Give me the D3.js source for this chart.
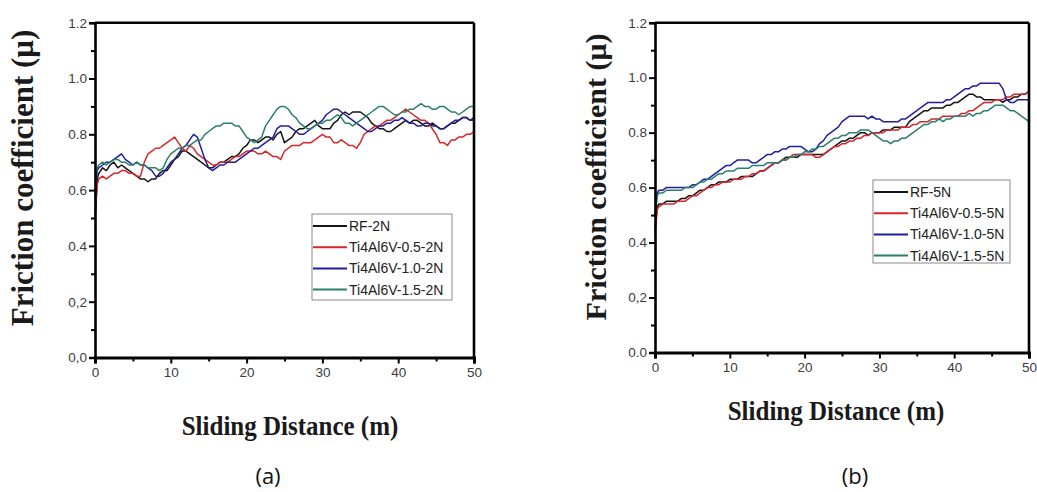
<!DOCTYPE html>
<html>
<head>
<meta charset="utf-8">
<script src="https://cdn.jsdelivr.net/npm/d3@7"></script>
<style>
  html, body { margin: 0; padding: 0; background: #fff; }
  svg { display: block; }
</style>
</head>
<body>
<svg id="chart" width="1037" height="492"></svg>
<script>
// Sliding distance (m) at which the friction coefficient was sampled
const distance = [0, 0.3,
  0.5, 1, 1.5, 2, 2.5, 3, 3.5, 4, 4.5, 5,
  5.5, 6, 6.5, 7, 7.5, 8, 8.5, 9, 9.5, 10,
  10.5, 11, 11.5, 12, 12.5, 13, 13.5, 14, 14.5, 15,
  15.5, 16, 16.5, 17, 17.5, 18, 18.5, 19, 19.5, 20,
  20.5, 21, 21.5, 22, 22.5, 23, 23.5, 24, 24.5, 25,
  25.5, 26, 26.5, 27, 27.5, 28, 28.5, 29, 29.5, 30,
  30.5, 31, 31.5, 32, 32.5, 33, 33.5, 34, 34.5, 35,
  35.5, 36, 36.5, 37, 37.5, 38, 38.5, 39, 39.5, 40,
  40.5, 41, 41.5, 42, 42.5, 43, 43.5, 44, 44.5, 45,
  45.5, 46, 46.5, 47, 47.5, 48, 48.5, 49, 49.5, 50];

// (a) 2 N load
const namesA = ["RF-2N", "Ti4Al6V-0.5-2N", "Ti4Al6V-1.0-2N", "Ti4Al6V-1.5-2N"];
const rf2N = [0.50, 0.64,
  0.66, 0.68, 0.67, 0.69, 0.70, 0.68, 0.69, 0.68, 0.67, 0.66,
  0.65, 0.64, 0.64, 0.63, 0.64, 0.64, 0.66, 0.67, 0.67, 0.69,
  0.71, 0.72, 0.74, 0.74, 0.73, 0.72, 0.71, 0.70, 0.69, 0.68,
  0.68, 0.69, 0.70, 0.70, 0.71, 0.72, 0.72, 0.73, 0.75, 0.76,
  0.78, 0.78, 0.77, 0.78, 0.79, 0.79, 0.78, 0.80, 0.81, 0.77,
  0.78, 0.79, 0.81, 0.82, 0.82, 0.83, 0.84, 0.85, 0.83, 0.82,
  0.82, 0.82, 0.84, 0.85, 0.87, 0.88, 0.87, 0.88, 0.88, 0.88,
  0.87, 0.86, 0.84, 0.83, 0.82, 0.82, 0.81, 0.81, 0.82, 0.83,
  0.84, 0.85, 0.84, 0.85, 0.85, 0.84, 0.83, 0.83, 0.84, 0.83,
  0.82, 0.82, 0.83, 0.84, 0.84, 0.85, 0.86, 0.86, 0.85, 0.86];
const ti05_2N = [0.50, 0.62,
  0.64, 0.65, 0.64, 0.65, 0.66, 0.66, 0.67, 0.67, 0.66, 0.66,
  0.65, 0.65, 0.70, 0.73, 0.74, 0.75, 0.75, 0.76, 0.77, 0.78,
  0.79, 0.77, 0.75, 0.74, 0.76, 0.75, 0.73, 0.72, 0.71, 0.70,
  0.69, 0.69, 0.70, 0.70, 0.70, 0.71, 0.72, 0.72, 0.73, 0.74,
  0.74, 0.74, 0.73, 0.73, 0.74, 0.73, 0.72, 0.72, 0.71, 0.74,
  0.75, 0.76, 0.76, 0.76, 0.77, 0.77, 0.77, 0.78, 0.79, 0.80,
  0.79, 0.79, 0.77, 0.77, 0.78, 0.77, 0.76, 0.76, 0.75, 0.77,
  0.80, 0.81, 0.82, 0.83, 0.83, 0.84, 0.85, 0.85, 0.86, 0.87,
  0.88, 0.89, 0.88, 0.87, 0.86, 0.85, 0.85, 0.84, 0.82, 0.80,
  0.77, 0.77, 0.76, 0.78, 0.78, 0.79, 0.79, 0.80, 0.80, 0.81];
const ti10_2N = [0.57, 0.67,
  0.68, 0.69, 0.70, 0.70, 0.71, 0.72, 0.73, 0.71, 0.70, 0.69,
  0.70, 0.69, 0.69, 0.68, 0.67, 0.65, 0.65, 0.66, 0.68, 0.70,
  0.71, 0.73, 0.75, 0.76, 0.78, 0.80, 0.79, 0.75, 0.71, 0.68,
  0.67, 0.68, 0.69, 0.69, 0.70, 0.70, 0.70, 0.71, 0.72, 0.73,
  0.74, 0.75, 0.75, 0.76, 0.77, 0.78, 0.79, 0.82, 0.83, 0.83,
  0.83, 0.82, 0.81, 0.80, 0.80, 0.81, 0.82, 0.83, 0.84, 0.85,
  0.87, 0.88, 0.89, 0.89, 0.88, 0.87, 0.86, 0.85, 0.84, 0.83,
  0.82, 0.81, 0.81, 0.82, 0.83, 0.83, 0.84, 0.84, 0.85, 0.85,
  0.86, 0.85, 0.84, 0.84, 0.83, 0.83, 0.84, 0.84, 0.83, 0.83,
  0.82, 0.82, 0.83, 0.84, 0.85, 0.85, 0.86, 0.86, 0.85, 0.85];
const ti15_2N = [0.58, 0.68,
  0.69, 0.70, 0.69, 0.70, 0.71, 0.71, 0.70, 0.70, 0.69, 0.69,
  0.70, 0.69, 0.69, 0.68, 0.68, 0.68, 0.67, 0.68, 0.71, 0.73,
  0.74, 0.75, 0.75, 0.76, 0.76, 0.77, 0.78, 0.78, 0.80, 0.81,
  0.82, 0.83, 0.83, 0.84, 0.84, 0.84, 0.83, 0.83, 0.81, 0.79,
  0.78, 0.77, 0.78, 0.79, 0.83, 0.85, 0.87, 0.89, 0.90, 0.90,
  0.89, 0.87, 0.86, 0.84, 0.83, 0.82, 0.82, 0.83, 0.84, 0.84,
  0.85, 0.85, 0.86, 0.87, 0.86, 0.84, 0.84, 0.83, 0.84, 0.85,
  0.86, 0.87, 0.88, 0.89, 0.90, 0.90, 0.89, 0.88, 0.87, 0.87,
  0.88, 0.88, 0.89, 0.89, 0.90, 0.91, 0.90, 0.90, 0.89, 0.89,
  0.90, 0.90, 0.89, 0.88, 0.88, 0.87, 0.88, 0.89, 0.90, 0.90];

// (b) 5 N load
const namesB = ["RF-5N", "Ti4Al6V-0.5-5N", "Ti4Al6V-1.0-5N", "Ti4Al6V-1.5-5N"];
const rf5N = [0.45, 0.53,
  0.54, 0.54, 0.55, 0.55, 0.55, 0.55, 0.56, 0.56, 0.57, 0.57,
  0.58, 0.59, 0.59, 0.60, 0.61, 0.61, 0.62, 0.62, 0.62, 0.63,
  0.63, 0.63, 0.64, 0.64, 0.64, 0.64, 0.65, 0.66, 0.66, 0.67,
  0.68, 0.69, 0.69, 0.70, 0.71, 0.71, 0.71, 0.71, 0.72, 0.72,
  0.72, 0.72, 0.72, 0.72, 0.72, 0.73, 0.74, 0.75, 0.76, 0.77,
  0.77, 0.78, 0.78, 0.79, 0.80, 0.80, 0.79, 0.80, 0.80, 0.80,
  0.81, 0.81, 0.81, 0.82, 0.82, 0.82, 0.82, 0.84, 0.85, 0.86,
  0.87, 0.88, 0.88, 0.89, 0.89, 0.89, 0.89, 0.90, 0.90, 0.91,
  0.91, 0.92, 0.93, 0.94, 0.94, 0.93, 0.93, 0.92, 0.92, 0.92,
  0.92, 0.92, 0.91, 0.92, 0.92, 0.93, 0.93, 0.94, 0.94, 0.95];
const ti05_5N = [0.43, 0.52,
  0.53, 0.54, 0.54, 0.54, 0.54, 0.55, 0.55, 0.55, 0.56, 0.57,
  0.57, 0.58, 0.59, 0.60, 0.60, 0.61, 0.61, 0.62, 0.62, 0.62,
  0.63, 0.63, 0.63, 0.64, 0.64, 0.65, 0.65, 0.66, 0.66, 0.67,
  0.68, 0.69, 0.69, 0.70, 0.70, 0.71, 0.72, 0.72, 0.72, 0.72,
  0.72, 0.72, 0.71, 0.71, 0.72, 0.73, 0.74, 0.75, 0.75, 0.76,
  0.76, 0.77, 0.77, 0.78, 0.78, 0.79, 0.79, 0.80, 0.80, 0.80,
  0.80, 0.81, 0.81, 0.81, 0.81, 0.82, 0.82, 0.82, 0.83, 0.83,
  0.84, 0.84, 0.84, 0.85, 0.85, 0.85, 0.86, 0.86, 0.86, 0.86,
  0.86, 0.87, 0.87, 0.88, 0.88, 0.89, 0.90, 0.91, 0.91, 0.91,
  0.92, 0.92, 0.92, 0.93, 0.93, 0.94, 0.94, 0.94, 0.94, 0.95];
const ti10_5N = [0.50, 0.58,
  0.59, 0.59, 0.60, 0.60, 0.60, 0.60, 0.60, 0.60, 0.60, 0.61,
  0.61, 0.62, 0.63, 0.63, 0.64, 0.65, 0.66, 0.67, 0.68, 0.68,
  0.69, 0.70, 0.70, 0.70, 0.70, 0.69, 0.69, 0.70, 0.71, 0.72,
  0.72, 0.73, 0.73, 0.74, 0.74, 0.75, 0.75, 0.75, 0.75, 0.74,
  0.73, 0.73, 0.74, 0.76, 0.77, 0.79, 0.80, 0.81, 0.82, 0.84,
  0.85, 0.86, 0.86, 0.86, 0.86, 0.86, 0.85, 0.86, 0.85, 0.85,
  0.84, 0.84, 0.84, 0.84, 0.84, 0.85, 0.85, 0.86, 0.87, 0.88,
  0.89, 0.90, 0.91, 0.91, 0.91, 0.91, 0.91, 0.92, 0.92, 0.93,
  0.94, 0.95, 0.96, 0.96, 0.97, 0.97, 0.98, 0.98, 0.98, 0.98,
  0.98, 0.98, 0.96, 0.92, 0.91, 0.91, 0.92, 0.92, 0.92, 0.92];
const ti15_5N = [0.49, 0.57,
  0.58, 0.58, 0.59, 0.59, 0.59, 0.59, 0.59, 0.60, 0.60, 0.60,
  0.61, 0.62, 0.62, 0.63, 0.63, 0.64, 0.65, 0.65, 0.66, 0.66,
  0.66, 0.67, 0.67, 0.67, 0.67, 0.68, 0.68, 0.68, 0.68, 0.69,
  0.69, 0.69, 0.69, 0.70, 0.70, 0.71, 0.71, 0.72, 0.72, 0.73,
  0.73, 0.74, 0.74, 0.75, 0.75, 0.76, 0.77, 0.78, 0.78, 0.79,
  0.79, 0.80, 0.80, 0.80, 0.81, 0.81, 0.81, 0.80, 0.79, 0.78,
  0.77, 0.77, 0.76, 0.77, 0.77, 0.78, 0.78, 0.79, 0.80, 0.81,
  0.82, 0.83, 0.83, 0.84, 0.84, 0.85, 0.84, 0.85, 0.85, 0.86,
  0.86, 0.86, 0.86, 0.87, 0.86, 0.87, 0.87, 0.88, 0.88, 0.89,
  0.90, 0.90, 0.90, 0.89, 0.88, 0.88, 0.87, 0.86, 0.85, 0.84];

// Axis ticks
const xMajor = [0, 10, 20, 30, 40, 50];
const xMinor = [5, 15, 25, 35, 45];
const yMajor = [0, 0.2, 0.4, 0.6, 0.8, 1.0, 1.2];
const yMinor = [0.1, 0.3, 0.5, 0.7, 0.9, 1.1];
const yLabelsA = ["0,0", "0,2", "0.4", "0.6", "0.8", "1.0", "1.2"];
const yLabelsB = ["0.0", "0,2", "0.4", "0.6", "0.8", "1.0", "1.2"];

const seriesColors = ["#141414", "#d8262a", "#1f1f9e", "#2b7f6d"];

const svg = d3.select("#chart");
svg.append("rect").attr("width", 1037).attr("height", 492).attr("fill", "#fff");

const SANS = "'Liberation Sans', Arial, sans-serif";
const SERIF = "'Liberation Serif', 'Times New Roman', serif";

function drawPanel(cfg) {
  const x = d3.scaleLinear().domain([0, 50]).range([cfg.left, cfg.right]);
  const y = d3.scaleLinear().domain([0, 1.2]).range([cfg.bottom, cfg.top]);
  const g = svg.append("g");

  // friction traces
  const line = d3.line().x((d, i) => x(distance[i])).y(d => y(d));
  cfg.series.forEach((vals, k) => {
    g.append("path")
      .datum(vals)
      .attr("d", line)
      .attr("fill", "none")
      .attr("stroke", seriesColors[k])
      .attr("stroke-width", 1.5)
      .attr("stroke-linejoin", "round");
  });

  // frame: top and right edges
  g.append("line").attr("x1", cfg.left).attr("x2", cfg.right)
    .attr("y1", cfg.top).attr("y2", cfg.top)
    .attr("stroke", "#000").attr("stroke-width", 2.6);
  g.append("line").attr("x1", cfg.right).attr("x2", cfg.right)
    .attr("y1", cfg.top).attr("y2", cfg.bottom)
    .attr("stroke", "#000").attr("stroke-width", 2.6);

  // y axis
  const yAxis = g.append("g").attr("transform", `translate(${cfg.left},0)`)
    .call(d3.axisLeft(y).tickValues(yMajor).tickSize(6).tickPadding(2)
      .tickFormat((d, i) => cfg.yLabels[i]));
  yAxis.select(".domain").attr("stroke", "#000").attr("stroke-width", 2.6);
  yAxis.selectAll(".tick line").attr("stroke", "#000").attr("stroke-width", 2);
  yAxis.selectAll(".tick text").attr("font-family", SANS).attr("font-size", 13.5)
    .attr("fill", "#3c3c3c");
  const yMin = g.append("g").attr("transform", `translate(${cfg.left},0)`)
    .call(d3.axisLeft(y).tickValues(yMinor).tickSize(4).tickFormat(""));
  yMin.select(".domain").remove();
  yMin.selectAll(".tick line").attr("stroke", "#000").attr("stroke-width", 2);

  // x axis
  const xAxis = g.append("g").attr("transform", `translate(0,${cfg.bottom})`)
    .call(d3.axisBottom(x).tickValues(xMajor).tickSize(6).tickPadding(4));
  xAxis.select(".domain").attr("stroke", "#000").attr("stroke-width", 3);
  xAxis.selectAll(".tick line").attr("stroke", "#000").attr("stroke-width", 2);
  xAxis.selectAll(".tick text").attr("font-family", SANS).attr("font-size", 13.5)
    .attr("fill", "#3c3c3c");
  const xMin = g.append("g").attr("transform", `translate(0,${cfg.bottom})`)
    .call(d3.axisBottom(x).tickValues(xMinor).tickSize(4).tickFormat(""));
  xMin.select(".domain").remove();
  xMin.selectAll(".tick line").attr("stroke", "#000").attr("stroke-width", 2);

  // axis titles
  g.append("text")
    .attr("transform", `translate(${cfg.yTitleX},${cfg.yTitleY}) rotate(-90)`)
    .attr("text-anchor", "middle")
    .attr("font-family", SERIF).attr("font-weight", "bold")
    .attr("font-size", cfg.yTitleSize).attr("fill", "#1a1a1a")
    .text("Friction coefficient (\u03bc)");
  g.append("text")
    .attr("transform", `translate(${cfg.xTitleX},${cfg.xTitleY}) scale(1,1.1)`)
    .attr("text-anchor", "middle")
    .attr("font-family", SERIF).attr("font-weight", "bold")
    .attr("font-size", 25).attr("fill", "#1a1a1a")
    .text("Sliding Distance (m)");

  // legend
  const lg = g.append("g").attr("transform", `translate(${cfg.legX},${cfg.legY})`);
  lg.append("rect").attr("width", cfg.legW).attr("height", cfg.legH)
    .attr("fill", "#fff").attr("stroke", "#8a8a8a").attr("stroke-width", 1);
  cfg.names.forEach((name, k) => {
    const cy = 12 + k * 21.2;
    lg.append("line").attr("x1", 1).attr("x2", 35).attr("y1", cy).attr("y2", cy)
      .attr("stroke", seriesColors[k]).attr("stroke-width", 2);
    lg.append("text").attr("x", 37).attr("y", cy + 5)
      .attr("font-family", SANS).attr("font-size", 14).attr("fill", "#222")
      .text(name);
  });

  // panel label
  svg.append("text")
    .attr("x", cfg.tagX).attr("y", 484)
    .attr("text-anchor", "middle")
    .attr("font-family", "'Open Sans', 'Noto Sans', sans-serif")
    .attr("font-size", 22).attr("fill", "#111")
    .text(cfg.tag);
}

drawPanel({
  left: 95, right: 474, top: 22.7, bottom: 357.5,
  series: [rf2N, ti05_2N, ti10_2N, ti15_2N], names: namesA, yLabels: yLabelsA,
  yTitleX: 33, yTitleY: 178, yTitleSize: 31,
  xTitleX: 290, xTitleY: 435,
  legX: 312, legY: 214, legW: 140, legH: 86,
  tag: "(a)", tagX: 268
});

drawPanel({
  left: 655, right: 1029, top: 22.7, bottom: 352.5,
  series: [rf5N, ti05_5N, ti10_5N, ti15_5N], names: namesB, yLabels: yLabelsB,
  yTitleX: 606, yTitleY: 177, yTitleSize: 30,
  xTitleX: 836, xTitleY: 420,
  legX: 873, legY: 180, legW: 137, legH: 83,
  tag: "(b)", tagX: 855
});
</script>
</body>
</html>
